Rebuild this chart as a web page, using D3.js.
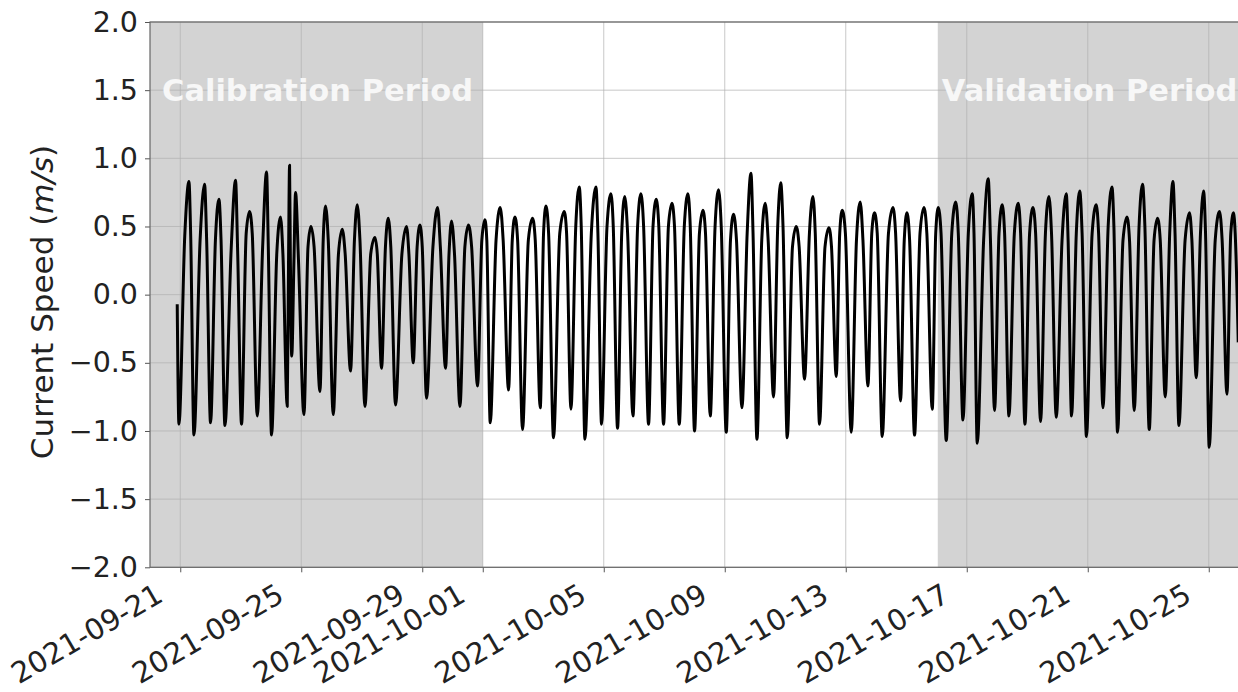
<!DOCTYPE html>
<html>
<head>
<meta charset="utf-8">
<script src="https://cdn.jsdelivr.net/npm/d3@7"></script>
<style>
  body { margin: 0; background: #fff; }
  text { font-family: "DejaVu Sans", sans-serif; }
</style>
</head>
<body>
<svg id="chart" width="1238" height="692"></svg>
<script>
// hours after 2021-09-21 00:00 UTC
const startHour = -2.4, startSpeed = -0.07
const endHour = 839.4, endSpeed = -0.35

const troughHours = [-1.03, 10.87, 24.04, 35.46, 48.63, 61.09, 72.44, 84.89, 88.46, 98.14,
  110.84, 121.39, 135.11, 146.54, 159.71, 170.81, 184.86, 195.41, 210.49, 221.91,
  235.87, 245.95, 260.47, 271.58, 285.62, 296.17, 309.98, 321.08, 334.26, 346.95,
  359.17, 371.55, 383.45, 395.90, 408.04, 420.50, 433.19, 445.64, 457.54, 470.71,
  481.59, 495.31, 507.21, 520.46, 532.36, 545.61, 556.96, 571.48, 582.58, 596.63,
  607.73, 620.99, 632.33, 646.06, 657.48, 670.18, 682.56, 695.01, 707.15, 718.97,
  732.06, 743.64, 756.89, 768.79, 781.48, 792.35, 806.07, 816.39, 830.43]
const troughSpeed = [-0.95, -1.03, -0.94, -0.96, -0.95, -0.89, -1.03, -0.82, -0.45, -0.88,
  -0.71, -0.88, -0.56, -0.82, -0.54, -0.81, -0.50, -0.76, -0.54, -0.82,
  -0.67, -0.94, -0.70, -0.99, -0.83, -1.05, -0.84, -1.06, -0.95, -0.98,
  -0.89, -0.95, -0.95, -0.95, -1.00, -0.89, -1.01, -0.83, -1.06, -0.75,
  -1.05, -0.62, -0.95, -0.60, -1.01, -0.67, -1.04, -0.78, -1.03, -0.84,
  -1.07, -0.92, -1.09, -0.85, -0.89, -0.95, -0.93, -0.90, -0.89, -1.04,
  -0.83, -1.01, -0.85, -0.99, -0.75, -0.96, -0.61, -1.12, -0.73]

const peakHours = [6.90, 19.28, 30.70, 43.87, 54.98, 68.47, 79.58, 86.72, 91.48, 103.69,
  115.28, 128.53, 140.43, 154.47, 165.02, 179.54, 190.17, 204.14, 215.24, 228.65,
  241.74, 253.88, 265.55, 279.51, 290.14, 304.66, 316.56, 329.81, 341.71, 352.66,
  365.52, 377.65, 390.11, 402.80, 414.70, 427.08, 438.98, 452.78, 464.13, 476.42,
  488.73, 501.98, 514.67, 525.22, 539.50, 550.84, 565.45, 576.55, 590.04, 601.39,
  615.30, 628.36, 641.06, 652.17, 664.86, 676.53, 689.22, 702.94, 713.65, 726.74,
  739.20, 751.10, 763.47, 775.37, 787.59, 800.76, 811.87, 824.56, 835.67]
const peakSpeed = [0.83, 0.81, 0.70, 0.84, 0.61, 0.90, 0.57, 0.95, 0.75, 0.50,
  0.65, 0.48, 0.66, 0.42, 0.56, 0.50, 0.51, 0.64, 0.54, 0.51,
  0.55, 0.64, 0.57, 0.56, 0.65, 0.61, 0.79, 0.79, 0.74, 0.72,
  0.74, 0.70, 0.67, 0.74, 0.62, 0.77, 0.59, 0.89, 0.67, 0.82,
  0.50, 0.72, 0.49, 0.62, 0.68, 0.60, 0.64, 0.60, 0.64, 0.64,
  0.68, 0.74, 0.85, 0.66, 0.67, 0.64, 0.72, 0.74, 0.76, 0.66,
  0.79, 0.57, 0.81, 0.56, 0.83, 0.60, 0.76, 0.61, 0.60]
// level of the flood plateau around each peak
const plateauSpeed = [0.43, 0.40, 0.40, 0.32, 0.45, 0.35, 0.30, 0.30, 0.25, 0.35,
  0.40, 0.30, 0.40, 0.30, 0.35, 0.30, 0.35, 0.35, 0.30, 0.35,
  0.40, 0.40, 0.40, 0.40, 0.45, 0.45, 0.50, 0.45, 0.50, 0.45,
  0.50, 0.50, 0.50, 0.50, 0.45, 0.50, 0.40, 0.45, 0.40, 0.50,
  0.35, 0.45, 0.35, 0.45, 0.40, 0.45, 0.45, 0.40, 0.45, 0.45,
  0.45, 0.45, 0.40, 0.45, 0.45, 0.45, 0.45, 0.40, 0.45, 0.45,
  0.50, 0.40, 0.50, 0.40, 0.45, 0.40, 0.45, 0.40, 0.45]

const xTicks = ["2021-09-21", "2021-09-25", "2021-09-29", "2021-10-01", "2021-10-05",
  "2021-10-09", "2021-10-13", "2021-10-17", "2021-10-21", "2021-10-25"]
const yTicks = [-2.0, -1.5, -1.0, -0.5, 0.0, 0.5, 1.0, 1.5, 2.0]
const periods = [
  { name: "Calibration Period", from: "2021-09-20T00:00Z", to: "2021-10-01T00:00Z" },
  { name: "Validation Period", from: "2021-10-16T01:00Z", to: "2021-10-26T00:00Z" }
]

const t0 = Date.UTC(2021, 8, 21)
const toDate = h => new Date(t0 + h * 3600e3)

// assemble the series: trough, rise plateau, peak, fall plateau, ...
const series = [{ t: toDate(startHour), v: startSpeed }]
troughHours.forEach((th, i) => {
  series.push({ t: toDate(th), v: troughSpeed[i] })
  const ph = peakHours[i]
  const next = i + 1 < troughHours.length ? troughHours[i + 1] : endHour
  series.push({ t: toDate(ph - 0.42 * (ph - th)), v: plateauSpeed[i] })
  series.push({ t: toDate(ph), v: peakSpeed[i] })
  series.push({ t: toDate(ph + 0.35 * (next - ph)), v: plateauSpeed[i] })
})
series.push({ t: toDate(endHour), v: endSpeed })

const margin = { left: 150, top: 22, right: 0, bottom: 124.7 }
const W = 1238, H = 692
const svg = d3.select("#chart")

const x = d3.scaleUtc()
  .domain([new Date("2021-09-20T00:00Z"), new Date("2021-10-26T00:00Z")])
  .range([margin.left, 1239])
const y = d3.scaleLinear().domain([-2, 2]).range([H - margin.bottom, margin.top])

svg.append("defs").append("clipPath").attr("id", "plot")
  .append("rect")
  .attr("x", margin.left).attr("y", margin.top)
  .attr("width", W - margin.left).attr("height", y(-2) - y(2))

// shaded periods
svg.append("g")
  .selectAll("rect")
  .data(periods)
  .join("rect")
  .attr("x", d => x(new Date(d.from)))
  .attr("width", d => x(new Date(d.to)) - x(new Date(d.from)))
  .attr("y", y(2))
  .attr("height", y(-2) - y(2))
  .attr("fill", "#d3d3d3")

// grid
const grid = svg.append("g").attr("stroke", "#b0b0b0").attr("stroke-opacity", 0.7).attr("stroke-width", 1)
grid.selectAll(".gx")
  .data(xTicks)
  .join("line")
  .attr("x1", d => x(new Date(d + "T00:00Z"))).attr("x2", d => x(new Date(d + "T00:00Z")))
  .attr("y1", y(2)).attr("y2", y(-2))
grid.selectAll(".gy")
  .data(yTicks)
  .join("line")
  .attr("x1", margin.left).attr("x2", W)
  .attr("y1", d => y(d)).attr("y2", d => y(d))

// period labels
svg.append("text")
  .attr("x", margin.left + 12).attr("y", 101)
  .attr("fill", "#f7f7f7").attr("font-weight", "bold").attr("font-size", 30.5)
  .text(periods[0].name)
svg.append("text")
  .attr("x", x(new Date(periods[1].from)) + 4).attr("y", 101)
  .attr("fill", "#f7f7f7").attr("font-weight", "bold").attr("font-size", 30.5)
  .text(periods[1].name)

// current speed line
const line = d3.line()
  .x(d => x(d.t))
  .y(d => y(d.v))
  .curve(d3.curveMonotoneX)

svg.append("path")
  .datum(series)
  .attr("clip-path", "url(#plot)")
  .attr("fill", "none")
  .attr("stroke", "#000")
  .attr("stroke-width", 3)
  .attr("stroke-linejoin", "round")
  .attr("d", line)

// axes
const yAxis = d3.axisLeft(y)
  .tickValues(yTicks)
  .tickSize(5)
  .tickPadding(7)
  .tickFormat(d => d3.format(".1f")(d).replace("-", "\u2212"))
svg.append("g")
  .attr("transform", `translate(${margin.left},0)`)
  .call(yAxis)
  .call(g => g.selectAll("text").attr("font-size", 28.5).attr("fill", "#222").attr("font-family", "DejaVu Sans"))
  .call(g => g.selectAll("line").attr("stroke", "#555"))
  .call(g => g.select(".domain").remove())

const xAxis = d3.axisBottom(x)
  .tickValues(xTicks.map(d => new Date(d + "T00:00Z")))
  .tickSize(5)
  .tickFormat(d3.utcFormat("%Y-%m-%d"))
svg.append("g")
  .attr("transform", `translate(0,${y(-2)})`)
  .call(xAxis)
  .call(g => g.select(".domain").remove())
  .call(g => g.selectAll("line").attr("stroke", "#555"))
  .call(g => g.selectAll("text")
    .attr("font-size", 29)
    .attr("fill", "#222")
    .attr("font-family", "DejaVu Sans")
    .attr("text-anchor", "end")
    .attr("dy", null)
    .attr("y", 0)
    .attr("transform", "translate(-16,33) rotate(-30)"))

// frame
svg.append("rect")
  .attr("x", margin.left).attr("y", y(2))
  .attr("width", W - margin.left + 2).attr("height", y(-2) - y(2))
  .attr("fill", "none").attr("stroke", "#666").attr("stroke-width", 1.2)

// y label
svg.append("text")
  .attr("transform", `translate(53,302) rotate(-90)`)
  .attr("text-anchor", "middle")
  .attr("font-size", 31)
  .attr("fill", "#222")
  .call(t => {
    t.append("tspan").text("Current Speed (")
    t.append("tspan").attr("font-style", "italic").text("m/s")
    t.append("tspan").text(")")
  })
</script>
</body>
</html>
